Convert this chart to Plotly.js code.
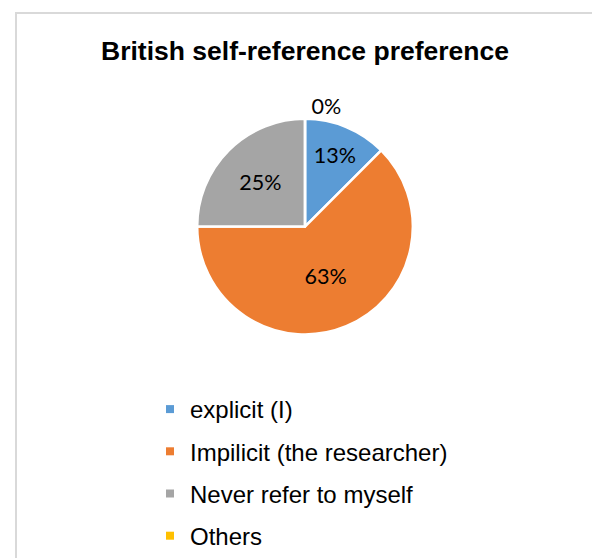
<!DOCTYPE html>
<html>
<head>
<meta charset="utf-8">
<script src="https://cdn.plot.ly/plotly-3.0.1.min.js"></script>
<style>
  html, body { margin: 0; padding: 0; background: #ffffff; }
  #chart { width: 592px; height: 558px; }
</style>
</head>
<body>
<div id="chart"></div>
<script>
// Data (slice shares)
var categories = ['explicit (I)', 'Impilicit (the researcher)', 'Never refer to myself', 'Others'];
var values = [12.5, 62.5, 25, 0];
var colors = ['#5B9BD5', '#ED7D31', '#A5A5A5', '#FFC000'];
var chartTitle = 'British self-reference preference';

var W = 592, H = 558;
var cx = 305, cy = 227, r = 108;

var pie = {
  type: 'pie',
  labels: categories,
  values: values,
  sort: false,
  direction: 'clockwise',
  rotation: 360,
  marker: { colors: colors, line: { color: '#ffffff', width: 2.5 } },
  texttemplate: '%{percent:.0%}',
  textposition: ['inside', 'inside', 'inside', 'outside'],
  insidetextorientation: 'horizontal',
  textfont: { family: 'Lato, sans-serif', size: 21.5, color: '#000000' },
  outsidetextfont: { family: 'Lato, sans-serif', size: 21.5, color: '#000000' },
  hoverinfo: 'label+percent',
  showlegend: false,
  domain: {
    x: [(cx - r) / W, (cx + r) / W],
    y: [(H - cy - r) / H, (H - cy + r) / H]
  }
};

// legend entries (one per category, so the group gap can space them)
var legendTraces = categories.map(function (c, i) {
  return {
    type: 'scatter', mode: 'markers', x: [null], y: [null],
    name: c, legendgroup: 'g' + i, showlegend: true,
    marker: { symbol: 'square', size: 8, color: colors[i] },
    hoverinfo: 'skip'
  };
});

var layout = {
  width: W, height: H,
  margin: { l: 0, r: 0, t: 0, b: 0 },
  paper_bgcolor: '#ffffff',
  plot_bgcolor: 'rgba(0,0,0,0)',
  title: {
    text: '<b>' + chartTitle + '</b>',
    font: { family: '"Liberation Sans", Arial, sans-serif', size: 26.5, color: '#000000' },
    x: 305 / W, xanchor: 'center',
    y: 1 - 50.5 / H, yanchor: 'middle'
  },
  xaxis: { visible: false, domain: [0, 0.01] },
  yaxis: { visible: false, domain: [0, 0.01] },
  showlegend: true,
  legend: {
    orientation: 'v',
    x: 150 / W, xanchor: 'left',
    y: 1 - 388 / H, yanchor: 'top',
    traceorder: 'grouped',
    tracegroupgap: 8,
    font: { family: '"Liberation Sans", Arial, sans-serif', size: 24, color: '#000000' },
    bgcolor: 'rgba(0,0,0,0)'
  },
  shapes: [{
    type: 'rect', xref: 'paper', yref: 'paper',
    x0: 16 / W, x1: 1.1, y0: -0.1, y1: 1 - 13 / H,
    line: { color: '#D9D9D9', width: 2 }, fillcolor: 'rgba(0,0,0,0)'
  }]
};

Plotly.newPlot('chart', [pie].concat(legendTraces), layout, { displayModeBar: false, staticPlot: true });
</script>
</body>
</html>
